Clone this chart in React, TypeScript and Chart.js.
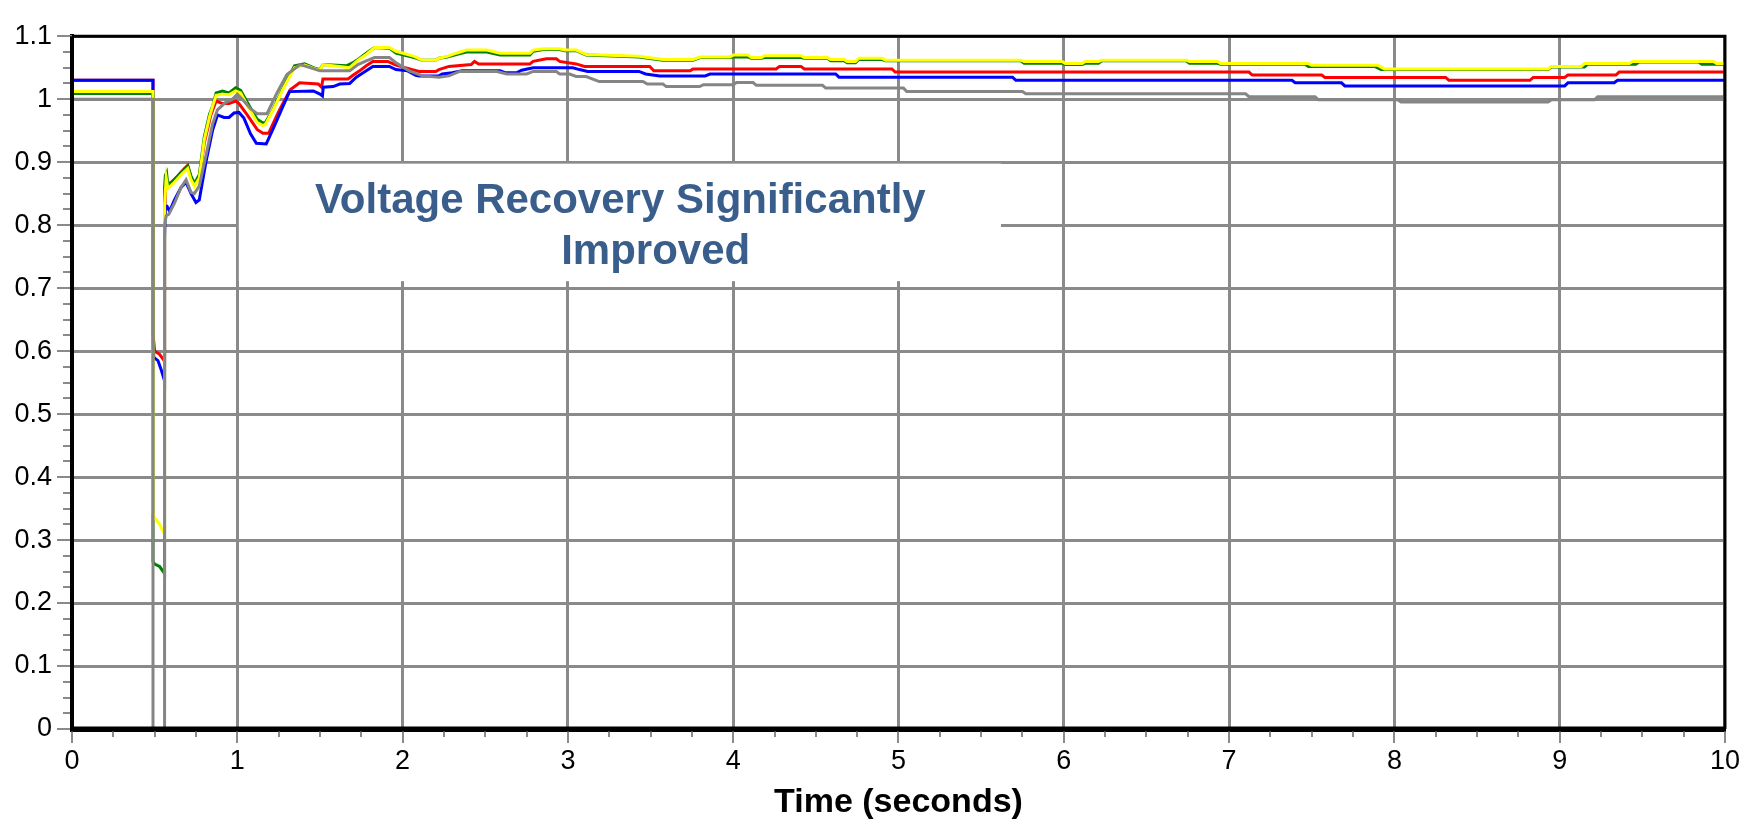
import React, { useEffect, useRef } from 'react';
import { Chart, registerables } from 'chart.js';

Chart.register(...registerables);

// ---- Axis ticks ----
const xTickValues = [0, 1, 2, 3, 4, 5, 6, 7, 8, 9, 10];
const xTickLabels = ['0', '1', '2', '3', '4', '5', '6', '7', '8', '9', '10'];
const yTickValues = [0, 0.1, 0.2, 0.3, 0.4, 0.5, 0.6, 0.7, 0.8, 0.9, 1.0, 1.1];
const yTickLabels = ['0', '0.1', '0.2', '0.3', '0.4', '0.5', '0.6', '0.7', '0.8', '0.9', '1', '1.1'];
const xMinorStep = 0.25;
const yMinorStep = 0.025;

// ---- Series: [time (s), voltage (pu)] ----
const blueSeries: [number, number][] = [
  [0, 1.03], [0.49, 1.03], [0.49, 0.615], [0.495, 0.59], [0.52, 0.585], [0.54, 0.57], [0.56, 0.553],
  [0.56, 0.78], [0.565, 0.83], [0.575, 0.83], [0.59, 0.822], [0.62, 0.84], [0.66, 0.86], [0.69, 0.868],
  [0.72, 0.85], [0.75, 0.836], [0.77, 0.84], [0.81, 0.9], [0.85, 0.95], [0.88, 0.975], [0.92, 0.971],
  [0.95, 0.971], [0.98, 0.978], [1.01, 0.979], [1.04, 0.97], [1.08, 0.945], [1.115, 0.93], [1.175, 0.929],
  [1.22, 0.955], [1.27, 0.985], [1.316, 1.012], [1.46, 1.013], [1.5, 1.008], [1.515, 1.005], [1.52, 1.019],
  [1.58, 1.02], [1.62, 1.024], [1.68, 1.025], [1.72, 1.035], [1.78, 1.045], [1.82, 1.052], [1.92, 1.052],
  [1.96, 1.047], [2.03, 1.045], [2.08, 1.038], [2.1, 1.037], [2.22, 1.037], [2.24, 1.04], [2.3, 1.042],
  [2.36, 1.045], [2.59, 1.045], [2.62, 1.042], [2.69, 1.042], [2.72, 1.046], [2.79, 1.05], [3.03, 1.05],
  [3.07, 1.047], [3.12, 1.044], [3.43, 1.044], [3.47, 1.04], [3.555, 1.037], [3.83, 1.037], [3.86, 1.04],
  [4.62, 1.04], [4.64, 1.035], [5.69, 1.035], [5.71, 1.03], [7.38, 1.03], [7.4, 1.026], [7.68, 1.026],
  [7.7, 1.021], [9.03, 1.021], [9.05, 1.026], [9.33, 1.026], [9.35, 1.03], [10, 1.03],
];

const redSeries: [number, number][] = [
  [0, 1.03], [0.49, 1.03], [0.49, 0.628], [0.5, 0.6], [0.53, 0.595], [0.56, 0.584],
  [0.56, 0.8], [0.565, 0.86], [0.575, 0.865], [0.6, 0.868], [0.64, 0.878], [0.68, 0.89], [0.7, 0.895],
  [0.72, 0.875], [0.74, 0.866], [0.77, 0.875], [0.8, 0.93], [0.84, 0.975], [0.872, 0.997], [0.91, 0.993],
  [0.95, 0.993], [0.99, 0.997], [1.01, 0.993], [1.06, 0.975], [1.12, 0.952], [1.155, 0.946], [1.19, 0.946],
  [1.25, 0.98], [1.32, 1.015], [1.377, 1.026], [1.49, 1.024], [1.51, 1.019], [1.518, 1.032], [1.67, 1.032],
  [1.7, 1.038], [1.74, 1.045], [1.78, 1.053], [1.82, 1.06], [1.91, 1.06], [1.96, 1.054], [2.06, 1.047],
  [2.1, 1.044], [2.2, 1.044], [2.22, 1.047], [2.28, 1.052], [2.415, 1.055], [2.435, 1.06], [2.46, 1.056],
  [2.77, 1.056], [2.79, 1.06], [2.87, 1.064], [2.93, 1.064], [2.95, 1.06], [3.05, 1.056], [3.1, 1.052],
  [3.495, 1.052], [3.52, 1.045], [3.74, 1.045], [3.757, 1.048], [4.26, 1.048], [4.28, 1.052], [4.41, 1.052],
  [4.43, 1.048], [4.96, 1.048], [4.98, 1.043], [7.12, 1.043], [7.14, 1.0383], [7.56, 1.0383], [7.58, 1.0346],
  [8.31, 1.0346], [8.33, 1.03], [8.82, 1.03], [8.84, 1.0346], [9.03, 1.0346], [9.05, 1.0383], [9.34, 1.0383],
  [9.36, 1.043], [10, 1.043],
];

const greenSeries: [number, number][] = [
  [0, 1.009], [0.49, 1.009], [0.49, 0.266], [0.5, 0.262], [0.53, 0.258], [0.56, 0.247],
  [0.56, 0.86], [0.565, 0.879], [0.572, 0.883], [0.58, 0.863], [0.62, 0.872], [0.66, 0.884], [0.7, 0.894],
  [0.72, 0.878], [0.741, 0.866], [0.77, 0.88], [0.8, 0.94], [0.832, 0.976], [0.852, 0.99], [0.872, 1.01],
  [0.91, 1.013], [0.95, 1.01], [0.99, 1.018], [1.02, 1.014], [1.06, 0.995], [1.12, 0.968], [1.155, 0.962],
  [1.17, 0.963], [1.215, 0.983], [1.28, 1.02], [1.346, 1.053], [1.407, 1.056], [1.46, 1.05], [1.5, 1.047],
  [1.518, 1.055], [1.66, 1.053], [1.7, 1.058], [1.74, 1.065], [1.79, 1.075], [1.83, 1.082], [1.92, 1.081],
  [1.96, 1.073], [2.07, 1.066], [2.12, 1.062], [2.2, 1.062], [2.22, 1.065], [2.27, 1.067], [2.325, 1.071],
  [2.385, 1.075], [2.51, 1.075], [2.59, 1.07], [2.77, 1.07], [2.79, 1.076], [2.85, 1.079], [2.95, 1.079],
  [2.98, 1.077], [3.05, 1.077], [3.11, 1.07], [3.43, 1.067], [3.575, 1.062], [3.757, 1.062], [3.8, 1.066],
  [3.98, 1.066], [4.0, 1.067], [4.09, 1.067], [4.11, 1.065], [4.17, 1.065], [4.19, 1.066], [4.41, 1.066],
  [4.43, 1.065], [4.57, 1.065], [4.59, 1.061], [4.67, 1.061], [4.69, 1.058], [4.74, 1.058], [4.76, 1.063],
  [4.9, 1.063], [4.92, 1.061], [5.74, 1.061], [5.76, 1.057], [5.99, 1.057], [6.01, 1.055], [6.11, 1.055],
  [6.13, 1.057], [6.21, 1.057], [6.23, 1.061], [6.74, 1.061], [6.76, 1.057], [6.93, 1.057], [6.95, 1.0555],
  [7.46, 1.0555], [7.48, 1.052], [7.88, 1.052], [7.92, 1.047], [8.93, 1.047], [8.95, 1.051], [9.15, 1.051],
  [9.17, 1.0555], [9.46, 1.0555], [9.48, 1.059], [9.84, 1.059], [9.86, 1.0555], [10, 1.0555],
];

const yellowSeries: [number, number][] = [
  [0, 1.012], [0.49, 1.012], [0.49, 0.343], [0.5, 0.335], [0.53, 0.325], [0.56, 0.309],
  [0.56, 0.833], [0.565, 0.855], [0.57, 0.875], [0.58, 0.858], [0.62, 0.868], [0.66, 0.88], [0.7, 0.89],
  [0.72, 0.872], [0.741, 0.862], [0.77, 0.875], [0.8, 0.935], [0.832, 0.972], [0.852, 0.99], [0.872, 1.006],
  [0.91, 1.008], [0.95, 1.007], [0.99, 1.013], [1.02, 1.01], [1.06, 0.99], [1.12, 0.963], [1.155, 0.958],
  [1.17, 0.96], [1.215, 0.982], [1.28, 1.018], [1.346, 1.05], [1.407, 1.054], [1.46, 1.049], [1.5, 1.046],
  [1.518, 1.055], [1.68, 1.05], [1.73, 1.062], [1.78, 1.071], [1.83, 1.082], [1.92, 1.082], [1.96, 1.076],
  [2.07, 1.068], [2.12, 1.062], [2.2, 1.062], [2.22, 1.065], [2.27, 1.068], [2.325, 1.073], [2.385, 1.078],
  [2.51, 1.078], [2.59, 1.073], [2.77, 1.073], [2.79, 1.078], [2.85, 1.08], [2.95, 1.08], [2.98, 1.078],
  [3.05, 1.078], [3.11, 1.071], [3.43, 1.068], [3.575, 1.063], [3.757, 1.063], [3.8, 1.067], [3.98, 1.067],
  [4.0, 1.07], [4.09, 1.07], [4.11, 1.066], [4.17, 1.066], [4.19, 1.069], [4.41, 1.069], [4.43, 1.066],
  [4.57, 1.066], [4.59, 1.063], [4.67, 1.063], [4.69, 1.06], [4.74, 1.06], [4.76, 1.065], [4.9, 1.065],
  [4.92, 1.062], [5.74, 1.062], [5.76, 1.06], [5.99, 1.06], [6.01, 1.0565], [6.11, 1.0565], [6.13, 1.06],
  [6.21, 1.06], [6.23, 1.062], [6.74, 1.062], [6.76, 1.06], [6.93, 1.06], [6.95, 1.0565], [7.48, 1.0565],
  [7.5, 1.0537], [7.9, 1.0537], [7.94, 1.048], [8.93, 1.048], [8.95, 1.052], [9.13, 1.052], [9.15, 1.0565],
  [9.42, 1.0565], [9.44, 1.06], [9.93, 1.06], [9.95, 1.0565], [10, 1.0565],
];

const graySeries: [number, number][] = [
  [0, 1.0], [0.49, 1.0], [0.49, 0.0], [0.56, 0.0], [0.56, 0.8], [0.57, 0.815], [0.585, 0.817],
  [0.62, 0.835], [0.66, 0.86], [0.69, 0.872], [0.72, 0.852], [0.74, 0.85], [0.77, 0.862], [0.81, 0.91],
  [0.85, 0.96], [0.88, 0.983], [0.93, 0.995], [0.97, 1.0], [1.0, 1.008], [1.03, 1.0], [1.08, 0.985],
  [1.12, 0.977], [1.18, 0.977], [1.24, 1.01], [1.3, 1.039], [1.38, 1.055], [1.44, 1.05], [1.5, 1.045],
  [1.68, 1.045], [1.73, 1.055], [1.78, 1.061], [1.83, 1.066], [1.92, 1.066], [1.96, 1.058], [2.04, 1.045],
  [2.12, 1.037], [2.22, 1.035], [2.28, 1.037], [2.345, 1.044], [2.57, 1.044], [2.63, 1.04], [2.75, 1.04],
  [2.79, 1.044], [2.93, 1.044], [2.95, 1.04], [3.01, 1.04], [3.05, 1.036], [3.11, 1.036], [3.19, 1.028],
  [3.454, 1.028], [3.48, 1.024], [3.575, 1.024], [3.595, 1.02], [3.797, 1.02], [3.82, 1.023], [4.0, 1.023],
  [4.02, 1.0265], [4.12, 1.0265], [4.14, 1.022], [4.54, 1.022], [4.56, 1.0176], [5.03, 1.0176], [5.05, 1.0122],
  [5.75, 1.0122], [5.77, 1.0085], [7.1, 1.0085], [7.12, 1.004], [7.52, 1.004], [7.54, 0.999], [8.02, 0.999],
  [8.04, 0.9955], [8.93, 0.9955], [8.95, 0.999], [9.21, 0.999], [9.23, 1.004], [10, 1.004],
];

// ---- Annotation (data coordinates) ----
const noteBox = { x0: 1.0, x1: 5.62, y0: 0.9, y1: 0.711 };
const noteLines = [
  { text: 'Voltage Recovery Significantly', x: 3.317, y: 0.819 },
  { text: 'Improved', x: 3.531, y: 0.739 },
];

const FONT = '"Liberation Sans", Arial, Helvetica, sans-serif';
const GRID = '#8a8a8a';

const toPts = (s: [number, number][]) => s.map(([x, y]) => ({ x, y }));

const decorPlugin = {
  id: 'decor',
  beforeDatasetsDraw(chart: any) {
    const { ctx, scales } = chart;
    const x = scales.x;
    const y = scales.y;
    const l = x.getPixelForValue(noteBox.x0) + 1.5;
    const r = x.getPixelForValue(noteBox.x1);
    const t = y.getPixelForValue(noteBox.y0) + 1.5;
    const b = y.getPixelForValue(noteBox.y1);
    ctx.save();
    ctx.fillStyle = '#ffffff';
    ctx.fillRect(l, t, r - l, b - t);
    ctx.font = `bold 42px ${FONT}`;
    ctx.fillStyle = '#3A5E8C';
    ctx.textAlign = 'center';
    ctx.textBaseline = 'alphabetic';
    noteLines.forEach((ln) => {
      ctx.fillText(ln.text, x.getPixelForValue(ln.x), y.getPixelForValue(ln.y));
    });
    ctx.restore();
  },
  afterDraw(chart: any) {
    const { ctx, chartArea, scales } = chart;
    const x = scales.x;
    const y = scales.y;
    ctx.save();
    ctx.strokeStyle = GRID;
    ctx.lineWidth = 2;
    ctx.beginPath();
    const yMin = yTickValues[0];
    const yMax = yTickValues[yTickValues.length - 1];
    const nY = Math.round((yMax - yMin) / yMinorStep);
    for (let i = 0; i <= nY; i++) {
      const v = yMin + i * yMinorStep;
      const p = Math.round(y.getPixelForValue(v));
      const major = i % 4 === 0;
      ctx.moveTo(chartArea.left - (major ? 15 : 9), p);
      ctx.lineTo(chartArea.left, p);
    }
    const xMin = xTickValues[0];
    const xMax = xTickValues[xTickValues.length - 1];
    const nX = Math.round((xMax - xMin) / xMinorStep);
    for (let i = 0; i <= nX; i++) {
      const v = xMin + i * xMinorStep;
      const p = Math.round(x.getPixelForValue(v));
      const major = i % 4 === 0;
      ctx.moveTo(p, chartArea.bottom);
      ctx.lineTo(p, chartArea.bottom + (major ? 14 : 8));
    }
    ctx.stroke();
    ctx.strokeStyle = '#000000';
    ctx.lineWidth = 3;
    ctx.beginPath();
    ctx.moveTo(chartArea.left, chartArea.top);
    ctx.lineTo(chartArea.right, chartArea.top);
    ctx.lineTo(chartArea.right, chartArea.bottom);
    ctx.stroke();
    ctx.lineWidth = 4;
    ctx.beginPath();
    ctx.moveTo(chartArea.left, chartArea.top);
    ctx.lineTo(chartArea.left, chartArea.bottom + 2);
    ctx.stroke();
    ctx.lineWidth = 5;
    ctx.beginPath();
    ctx.moveTo(chartArea.left - 2, chartArea.bottom);
    ctx.lineTo(chartArea.right + 1, chartArea.bottom);
    ctx.stroke();
    ctx.restore();
  },
};

export default function App() {
  const ref = useRef<HTMLCanvasElement | null>(null);

  useEffect(() => {
    if (!ref.current) return;
    const mk = (data: [number, number][], color: string, label: string) => ({
      label,
      data: toPts(data),
      borderColor: color,
      backgroundColor: color,
      borderWidth: 3,
      pointRadius: 0,
      tension: 0,
      fill: false,
    });
    const chart = new Chart(ref.current, {
      type: 'line',
      data: {
        datasets: [
          mk(graySeries, '#858585', 'gray'),
          mk(yellowSeries, '#FFFF00', 'yellow'),
          mk(greenSeries, '#008000', 'green'),
          mk(blueSeries, '#0000FF', 'blue'),
          mk(redSeries, '#FF0000', 'red'),
        ],
      },
      options: {
        animation: false,
        responsive: false,
        devicePixelRatio: 1,
        parsing: false as any,
        normalized: true,
        layout: { padding: { left: 0, right: 31, top: 21, bottom: 0 } },
        plugins: {
          legend: { display: false },
          tooltip: { enabled: false },
        },
        scales: {
          x: {
            type: 'linear',
            min: 0,
            max: 10,
            afterBuildTicks: (scale: any) => {
              scale.ticks = xTickValues.map((v) => ({ value: v }));
            },
            afterFit: (scale: any) => {
              scale.height = 96;
            },
            grid: { color: GRID, lineWidth: 3, drawTicks: false },
            border: { display: true, color: '#000000', width: 5 },
            ticks: {
              callback: (_v: any, i: number) => xTickLabels[i],
              font: { family: FONT, size: 27 },
              color: '#000000',
              padding: 16,
              maxRotation: 0,
              autoSkip: false,
            },
            title: {
              display: true,
              text: 'Time (seconds)',
              font: { family: FONT, size: 34, weight: 'bold' },
              color: '#000000',
              padding: { top: 0, bottom: 2 },
            },
          },
          y: {
            type: 'linear',
            min: 0,
            max: 1.1,
            afterBuildTicks: (scale: any) => {
              scale.ticks = yTickValues.map((v) => ({ value: v }));
            },
            afterFit: (scale: any) => {
              scale.width = 72;
            },
            grid: { color: GRID, lineWidth: 3, drawTicks: false },
            border: { display: true, color: '#000000', width: 4 },
            ticks: {
              callback: (_v: any, i: number) => yTickLabels[i],
              font: { family: FONT, size: 27 },
              color: '#000000',
              padding: 20,
              autoSkip: false,
            },
          },
        },
      },
      plugins: [decorPlugin],
    } as any);
    return () => chart.destroy();
  }, []);

  return (
    <div style={{ position: 'fixed', left: 0, top: 0, width: 1756, height: 825, background: '#ffffff' }}>
      <canvas ref={ref} width={1756} height={825} style={{ display: 'block' }} />
    </div>
  );
}
